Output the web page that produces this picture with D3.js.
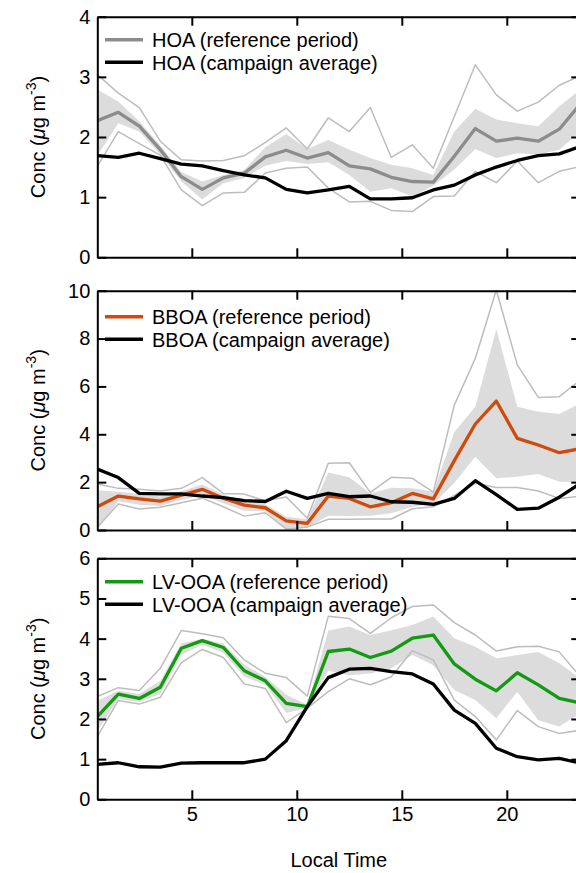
<!DOCTYPE html>
<html>
<head>
<meta charset="utf-8">
<script src="https://cdn.jsdelivr.net/npm/d3@7"></script>
<style>
  html, body { margin: 0; padding: 0; background: #fff; }
  svg { display: block; font-family: "Liberation Sans", Arial, Helvetica, sans-serif; }
</style>
</head>
<body>
<svg id="chart" width="576" height="873"></svg>
<script>
// hour of day (bin centres)
const hours = [0.5, 1.5, 2.5, 3.5, 4.5, 5.5, 6.5, 7.5, 8.5, 9.5, 10.5, 11.5,
  12.5, 13.5, 14.5, 15.5, 16.5, 17.5, 18.5, 19.5, 20.5, 21.5, 22.5, 23.5];
const xTicks = [5, 10, 15, 20];

// HOA
const hoaRef  = [2.27, 2.41, 2.18, 1.79, 1.34, 1.13, 1.32, 1.40, 1.67, 1.78, 1.65, 1.74, 1.52, 1.47, 1.33, 1.26, 1.25, 1.68, 2.14, 1.93, 1.98, 1.93, 2.13, 2.55];
const hoaCamp = [1.69, 1.66, 1.73, 1.64, 1.55, 1.52, 1.44, 1.37, 1.32, 1.13, 1.07, 1.12, 1.18, 0.97, 0.97, 0.99, 1.12, 1.20, 1.37, 1.50, 1.61, 1.69, 1.72, 1.84];
const hoaMax  = [3.04, 2.73, 2.49, 1.93, 1.62, 1.60, 1.61, 1.69, 1.91, 2.15, 1.80, 2.32, 2.09, 2.49, 1.66, 1.87, 1.48, 2.34, 3.20, 2.70, 2.43, 2.58, 2.86, 3.02];
const hoaMin  = [1.51, 2.09, 1.89, 1.70, 1.12, 0.86, 1.07, 1.08, 1.40, 1.48, 1.50, 1.15, 0.92, 0.93, 0.78, 0.76, 1.01, 1.02, 1.43, 1.24, 1.60, 1.24, 1.43, 1.51];
const hoaHi   = [2.79, 2.59, 2.26, 1.86, 1.42, 1.26, 1.37, 1.45, 1.83, 2.05, 1.80, 1.95, 1.79, 1.65, 1.54, 1.48, 1.37, 2.09, 2.47, 2.29, 2.23, 2.18, 2.51, 2.79];
const hoaLo   = [1.69, 2.23, 2.09, 1.71, 1.26, 0.96, 1.23, 1.32, 1.52, 1.60, 1.55, 1.58, 1.37, 1.09, 1.15, 1.01, 1.19, 1.46, 1.80, 1.65, 1.73, 1.71, 1.79, 2.09];

// BBOA
const bboaRef  = [0.97, 1.42, 1.30, 1.21, 1.46, 1.70, 1.33, 1.04, 0.93, 0.38, 0.28, 1.42, 1.32, 0.97, 1.14, 1.53, 1.30, 2.90, 4.43, 5.39, 3.83, 3.55, 3.23, 3.40];
const bboaCamp = [2.55, 2.19, 1.53, 1.51, 1.51, 1.42, 1.35, 1.23, 1.19, 1.62, 1.32, 1.53, 1.39, 1.42, 1.18, 1.16, 1.07, 1.32, 2.06, 1.48, 0.86, 0.91, 1.37, 1.95];
const bboaMax  = [1.92, 1.74, 1.70, 1.63, 1.74, 2.19, 1.53, 1.50, 1.22, 1.38, 0.49, 2.79, 2.81, 1.57, 2.20, 2.16, 1.58, 5.22, 7.17, 10.03, 6.90, 5.54, 5.57, 6.27];
const bboaMin  = [0.10, 1.09, 0.88, 0.95, 1.14, 1.33, 0.97, 0.58, 0.72, 0.03, 0.12, 0.45, 0.45, 0.46, 0.46, 0.89, 0.97, 1.45, 1.95, 1.78, 1.78, 1.63, 1.32, 1.41];
const bboaHi   = [1.66, 1.60, 1.50, 1.40, 1.62, 1.90, 1.48, 1.20, 1.08, 0.55, 0.45, 2.40, 2.20, 1.53, 1.77, 1.74, 1.60, 4.10, 5.15, 8.39, 5.15, 4.94, 4.85, 5.30];
const bboaLo   = [0.05, 1.20, 1.05, 1.00, 1.25, 1.45, 1.12, 0.80, 0.78, 0.02, 0.10, 0.60, 0.58, 0.60, 0.70, 0.97, 1.10, 1.96, 3.06, 2.16, 2.23, 2.34, 2.02, 2.00];

// LV-OOA
const lvRef  = [2.06, 2.62, 2.51, 2.79, 3.76, 3.95, 3.78, 3.20, 2.95, 2.39, 2.31, 3.68, 3.74, 3.53, 3.69, 4.01, 4.09, 3.37, 2.99, 2.70, 3.15, 2.85, 2.51, 2.40];
const lvCamp = [0.87, 0.91, 0.81, 0.80, 0.90, 0.91, 0.91, 0.91, 1.00, 1.46, 2.31, 3.03, 3.24, 3.26, 3.18, 3.12, 2.87, 2.22, 1.89, 1.27, 1.06, 0.98, 1.02, 0.90];
const lvMax  = [2.56, 2.78, 2.71, 3.26, 4.20, 4.12, 4.02, 3.47, 3.14, 3.03, 2.57, 4.56, 4.50, 4.13, 4.52, 4.80, 4.84, 4.40, 4.09, 3.69, 3.80, 3.81, 3.67, 3.05];
const lvMin  = [1.56, 2.46, 2.37, 2.54, 3.40, 3.73, 3.53, 2.87, 2.76, 1.91, 2.27, 2.68, 3.00, 2.85, 3.05, 3.70, 3.47, 2.47, 2.06, 1.48, 2.21, 1.81, 1.64, 1.72];
const lvHi   = [2.45, 2.70, 2.62, 2.95, 3.88, 4.00, 3.87, 3.35, 3.05, 2.60, 2.35, 4.20, 4.30, 4.09, 4.21, 4.34, 4.55, 4.01, 3.80, 3.51, 3.59, 3.67, 3.39, 3.01];
const lvLo   = [1.70, 2.50, 2.42, 2.62, 3.60, 3.85, 3.65, 3.05, 2.85, 2.15, 2.28, 3.20, 3.09, 3.13, 3.26, 3.59, 3.34, 2.72, 2.47, 2.02, 2.68, 1.97, 1.81, 2.14];

const svg = d3.select('#chart');
const left = 97.3, right = 580.3;
const x = d3.scaleLinear().domain([0.5, 23.5]).range([left, right]);

const panels = [
  { name: 'HOA', top: 16.7, bottom: 257.3, yMax: 4, yTicks: [0, 1, 2, 3, 4], color: '#8c8c8c',
    ref: hoaRef, camp: hoaCamp, max: hoaMax, min: hoaMin, hi: hoaHi, lo: hoaLo, legY: 23 },
  { name: 'BBOA', top: 290.7, bottom: 530, yMax: 10, yTicks: [0, 2, 4, 6, 8, 10], color: '#cf4a0b',
    ref: bboaRef, camp: bboaCamp, max: bboaMax, min: bboaMin, hi: bboaHi, lo: bboaLo, legY: 26 },
  { name: 'LV-OOA', top: 558.3, bottom: 799.3, yMax: 6, yTicks: [0, 1, 2, 3, 4, 5, 6], color: '#139a13',
    ref: lvRef, camp: lvCamp, max: lvMax, min: lvMin, hi: lvHi, lo: lvLo, legY: 23.5 }
];

panels.forEach((p, pi) => {
  const y = d3.scaleLinear().domain([0, p.yMax]).range([p.bottom, p.top]);
  const g = svg.append('g');

  const clipId = 'clip' + pi;
  g.append('clipPath').attr('id', clipId)
    .append('rect').attr('x', left).attr('y', p.top - 1)
    .attr('width', right - left).attr('height', p.bottom - p.top + 2);

  const plot = g.append('g').attr('clip-path', `url(#${clipId})`);

  // shaded band
  const area = d3.area()
    .x((d, i) => x(hours[i]))
    .y0((d, i) => y(p.lo[i]))
    .y1((d, i) => y(p.hi[i]));
  plot.append('path').datum(p.hi).attr('d', area).attr('fill', '#dcdcdc');

  const line = d3.line().x((d, i) => x(hours[i])).y(d => y(d));

  // thin envelopes
  [p.max, p.min].forEach(arr => {
    plot.append('path').datum(arr).attr('d', line)
      .attr('fill', 'none').attr('stroke', '#bdbdbd').attr('stroke-width', 1.5)
      .attr('stroke-linejoin', 'round');
  });

  plot.append('path').datum(p.ref).attr('d', line)
    .attr('fill', 'none').attr('stroke', p.color).attr('stroke-width', 3.3)
    .attr('stroke-linejoin', 'round');
  plot.append('path').datum(p.camp).attr('d', line)
    .attr('fill', 'none').attr('stroke', '#000').attr('stroke-width', 3.3)
    .attr('stroke-linejoin', 'round');

  // axes (ticks inside on all four sides)
  const isLast = pi === panels.length - 1;
  const styleAxis = sel => {
    sel.selectAll('path.domain').attr('stroke', '#000').attr('stroke-width', 2);
    sel.selectAll('.tick line').attr('stroke', '#000').attr('stroke-width', 2);
    sel.selectAll('text').attr('font-size', 20).attr('fill', '#000')
      .attr('font-family', '"Liberation Sans", Arial, Helvetica, sans-serif');
  };

  g.append('g').attr('transform', `translate(0,${p.bottom})`)
    .call(d3.axisBottom(x).tickValues(xTicks).tickSizeInner(-9).tickSizeOuter(0).tickPadding(8)
      .tickFormat(isLast ? d3.format('d') : () => ''))
    .call(styleAxis);
  g.append('g').attr('transform', `translate(0,${p.top})`)
    .call(d3.axisTop(x).tickValues(xTicks).tickSizeInner(-9).tickSizeOuter(0).tickFormat(() => ''))
    .call(styleAxis);
  g.append('g').attr('transform', `translate(${left},0)`)
    .call(d3.axisLeft(y).tickValues(p.yTicks).tickSizeInner(-9).tickSizeOuter(0).tickPadding(7)
      .tickFormat(d3.format('d')))
    .call(styleAxis);
  g.append('g').attr('transform', `translate(${right},0)`)
    .call(d3.axisRight(y).tickValues(p.yTicks).tickSizeInner(-9).tickSizeOuter(0).tickFormat(() => ''))
    .call(styleAxis);

  // y label
  const lab = g.append('text')
    .attr('transform', `translate(45,${(p.top + p.bottom) / 2}) rotate(-90)`)
    .attr('text-anchor', 'middle').attr('font-size', 20).attr('fill', '#000');
  lab.append('tspan').text('Conc (');
  lab.append('tspan').attr('font-style', 'italic').text('\u03bc');
  lab.append('tspan').text('g m');
  lab.append('tspan').attr('dy', -9).attr('font-size', 14).text('-3');
  lab.append('tspan').attr('dy', 9).text(')');

  // legend
  const legend = [
    { label: p.name + ' (reference period)', color: p.color },
    { label: p.name + ' (campaign average)', color: '#000' }
  ];
  legend.forEach((d, i) => {
    const ly = p.top + p.legY + i * 22.5;
    g.append('line').attr('x1', 105).attr('x2', 143).attr('y1', ly).attr('y2', ly)
      .attr('stroke', d.color).attr('stroke-width', 3.5);
    g.append('text').attr('x', 152).attr('y', ly + 7.3)
      .attr('font-size', 20).attr('fill', '#000').text(d.label);
  });
});

svg.append('text').attr('x', (left + right) / 2).attr('y', 867)
  .attr('text-anchor', 'middle').attr('font-size', 20).attr('fill', '#000')
  .text('Local Time');
</script>
</body>
</html>
